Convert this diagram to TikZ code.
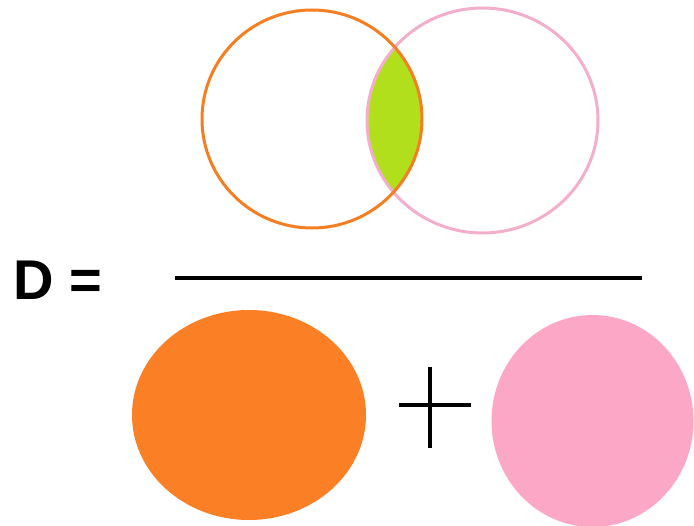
\documentclass[tikz,border=0pt]{standalone}
\usepackage{fontspec}
\setmainfont{Liberation Sans}
\definecolor{orng}{HTML}{F47E22}
\definecolor{orngfill}{HTML}{FA7F25}
\definecolor{pnk}{HTML}{F2AECB}
\definecolor{pnkfill}{HTML}{FDA7C6}
\definecolor{lime}{HTML}{B2DF1B}
\begin{document}
\begin{tikzpicture}[x=1pt,y=-1pt,
  outl/.style={line width=3pt},
  bar/.style={line width=4pt,black}]
\useasboundingbox (0,0) rectangle (694,526);
% lens
\begin{scope}
  \clip (312,119) ellipse [x radius=110, y radius=109];
  \fill[lime] (482.5,120.5) ellipse [x radius=115.5, y radius=112.5];
\end{scope}
\draw[outl,pnk] (482.5,120.5) ellipse [x radius=115.5, y radius=112.5];
\draw[outl,orng] (312,119) ellipse [x radius=110, y radius=109];
% D =
\node[anchor=base west,inner sep=0pt,font=\fontsize{56}{60}\selectfont\bfseries] (d) at (13,300) {D =};
\draw[bar] (175,278) -- (642,278);
% bottom
\fill[orngfill] (249,415) ellipse [x radius=117, y radius=105];
\draw[bar] (430,367) -- (430,448);
\draw[bar] (399,405) -- (471,405);
\fill[pnkfill] (592.5,421) ellipse [x radius=101, y radius=106];
\end{tikzpicture}
\end{document}
